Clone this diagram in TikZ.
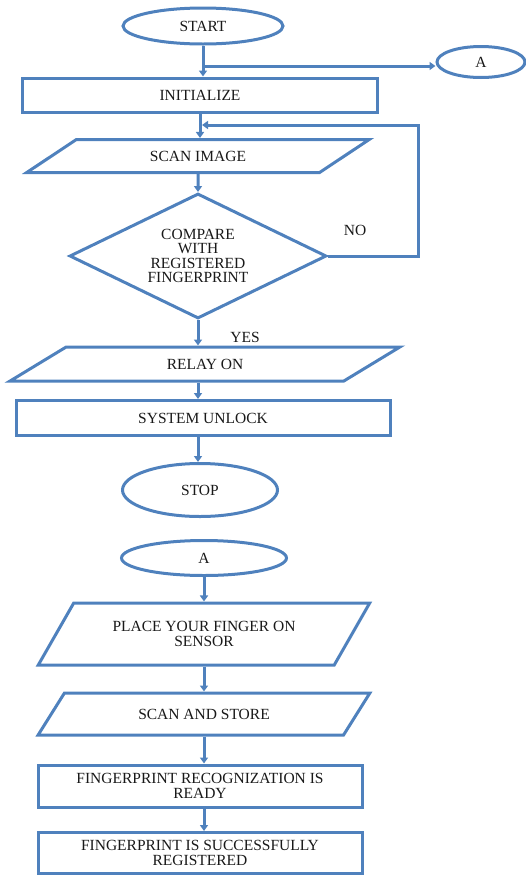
\documentclass[tikz,border=0pt]{standalone}
\usepackage{fontspec}
\setmainfont{Liberation Serif}
\usepackage{xcolor}
\usetikzlibrary{shapes.geometric,arrows.meta}
\definecolor{flowblue}{RGB}{79,129,189}

\begin{document}
\begin{tikzpicture}[x=1pt,y=-1pt,
	base/.style={draw=flowblue,line width=3pt,text=black!90,align=center,inner sep=0pt,
		font=\fontsize{15.5}{14.5}\selectfont},
	term/.style={base,ellipse},
	proc/.style={base,rectangle},
	io/.style={base,trapezium,trapezium stretches=true,
		trapezium left angle=#1,trapezium right angle=180-#1},
	decide/.style={base,diamond,shape aspect=2},
	lbl/.style={text=black!90,font=\fontsize{15.5}{14.5}\selectfont,inner sep=0pt},
	arr/.style={draw=flowblue,line width=3pt,-{Triangle[width=8pt,length=6pt]}}]
	
	% Parameters
	\def\pw{526}
	\def\ph{876}
	\useasboundingbox (0,0) rectangle (\pw,\ph);
	
	% verification flow
	\node[term,minimum width=160,minimum height=36] (start) at (203,26) {START};
	\node[proc,minimum width=355,minimum height=34] (init) at (200,95) {INITIALIZE};
	\node[term,minimum width=88,minimum height=31] (aa) at (481,62) {A};
	\node[io=28,minimum width=343,minimum height=33] (scan) at (198,156) {SCAN IMAGE};
	\node[decide,minimum width=257,minimum height=125] (cmp) at (198,256) {COMPARE\\WITH\\REGISTERED\\FINGERPRINT};
	\node[io=34,minimum width=390,minimum height=34] (relay) at (205,364) {RELAY ON};
	\node[proc,minimum width=374,minimum height=35] (unlock) at (203,418) {SYSTEM UNLOCK};
	\node[term,minimum width=155,minimum height=53] (stop) at (200,490) {STOP};
	
	% labels
	\node[lbl] (no) at (355,230) {NO};
	\node[lbl] (yes) at (245,337) {YES};
	
	% enrolment flow
	\node[term,minimum width=165,minimum height=35] (ab) at (204,558) {A};
	\node[io=45,minimum width=332,minimum height=62] (place) at (204,634) {PLACE YOUR FINGER ON\\SENSOR};
	\node[io=40,minimum width=332,minimum height=42] (store) at (204,714) {SCAN AND STORE};
	\node[proc,minimum width=324,minimum height=42] (ready) at (200,786) {FINGERPRINT RECOGNIZATION IS\\READY};
	\node[proc,minimum width=324,minimum height=41] (done) at (200,853) {FINGERPRINT IS SUCCESSFULLY\\REGISTERED};
	
	% connectors
	\coordinate (split) at (203,66);
	\coordinate (back) at (202,125);
	\draw[arr] (start.south) -- (start.south |- init.north);
	\draw[arr] (split) -- (split -| aa.west);
	\draw[arr] (init.south) -- (init.south |- scan.north);
	\draw[arr] (scan.south) -- (cmp.north);
	\draw[arr] (cmp.east) -- ++(90,0) |- (back);
	\draw[arr] (cmp.south) -- (cmp.south |- relay.north);
	\draw[arr] (relay.south -| cmp.south) -- (unlock.north -| cmp.south);
	\draw[arr] (unlock.south -| cmp.south) -- (stop.north -| cmp.south);
	
	\foreach \a/\b in {ab/place,place/store,store/ready,ready/done} {
		\draw[arr] (\a.south -| ab.south) -- (\b.north -| ab.south);
	}
	
\end{tikzpicture}
\end{document}
